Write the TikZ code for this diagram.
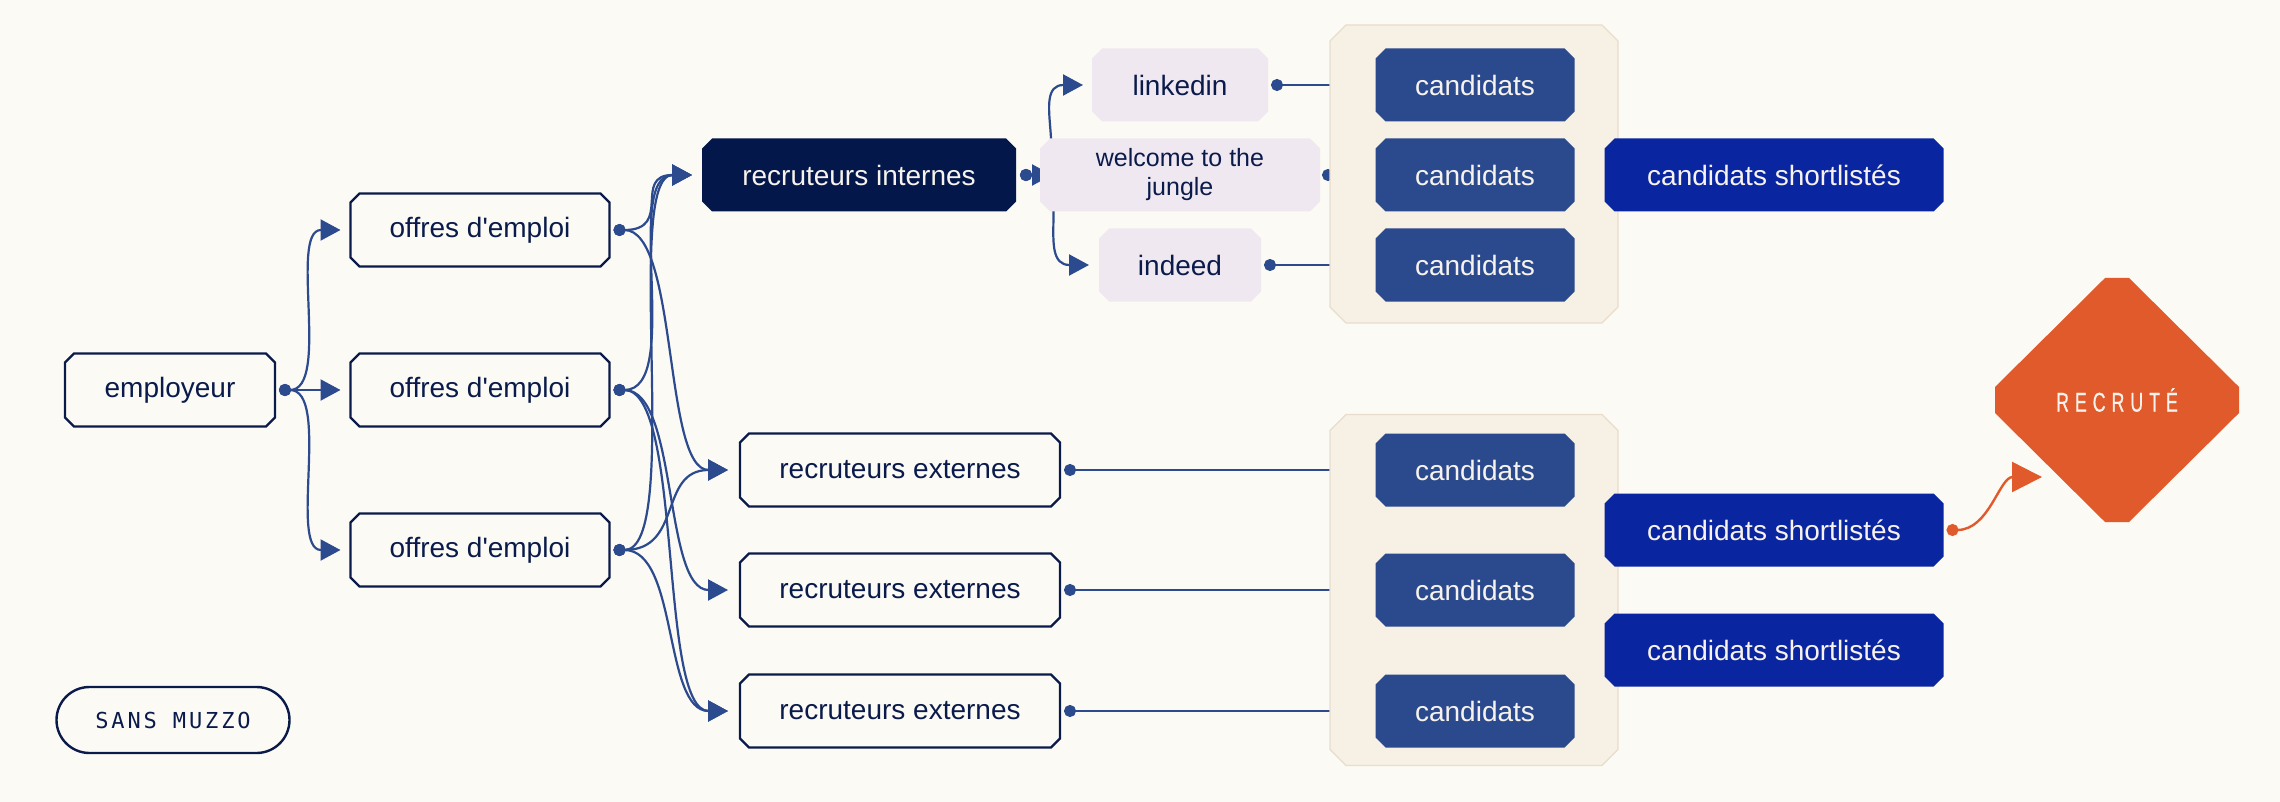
\documentclass[tikz,border=0pt]{standalone}
\usepackage{fontspec}
\setmainfont{Liberation Sans}
\newfontfamily\monof{DejaVu Sans Mono}[LetterSpace=13]
\newfontfamily\recf{Liberation Sans}[FakeStretch=0.66,LetterSpace=22,FakeBold=0.6]
\usetikzlibrary{arrows.meta,calc}
\definecolor{bgc}{HTML}{FCFAF4}
\definecolor{navy}{HTML}{0A1B4B}
\definecolor{dnavy}{HTML}{03174B}
\definecolor{lnk}{HTML}{2C4A8E}
\definecolor{candc}{HTML}{2B4A8E}
\definecolor{shortc}{HTML}{0A25A0}
\definecolor{lav}{HTML}{EFE8F1}
\definecolor{tan}{HTML}{F6F0E5}
\definecolor{tanb}{HTML}{E9DDCB}
\definecolor{orng}{HTML}{E05A2B}
\definecolor{lighttxt}{HTML}{F7F3EC}
\pgfdeclarelayer{back}
\pgfdeclarelayer{edges}
\pgfdeclarelayer{cont}
\pgfdeclarelayer{shp}
\pgfsetlayers{back,edges,cont,shp,main}
\newcommand\chamf[3]{\path[#3] ([xshift=#2]#1.north west) -- ([xshift=-#2]#1.north east) -- ([yshift=-#2]#1.north east) -- ([yshift=#2]#1.south east) -- ([xshift=-#2]#1.south east) -- ([xshift=#2]#1.south west) -- ([yshift=#2]#1.south west) -- ([yshift=-#2]#1.north west) -- cycle;}
\tikzset{
  box/.style={rectangle, minimum height=73pt, inner sep=0pt, outer sep=0pt, font=\fontsize{28}{32}\selectfont},
  wbox/.style={box, text=navy},
  dbox/.style={box, text=lighttxt},
  lbox/.style={box, text=navy},
  cbox/.style={box, text=lighttxt, minimum width=199pt},
  sbox/.style={box, text=lighttxt, minimum width=339pt},
  wsh/.style={draw=navy, line width=2.4pt, fill=bgc},
  contsh/.style={fill=tan, draw=tanb, line width=1.2pt},
  conn/.style={draw=lnk, line width=2.2pt, {Circle[length=12pt]}-{Triangle[length=20pt,width=21pt]}},
  oconn/.style={draw=orng, line width=2.4pt, {Circle[length=12pt]}-{Triangle[length=30pt,width=30pt]}},
  bend/.style={to path={.. controls ([xshift=#1]\tikztostart) and ([xshift=-#1]\tikztotarget) .. (\tikztotarget)}},
}
\begin{document}
\begin{tikzpicture}[x=1pt,y=-1pt]
\begin{pgfonlayer}{back}
\fill[bgc] (0,0) rectangle (2280,802);
\end{pgfonlayer}
\useasboundingbox (0,0) rectangle (2280,802);

% nodes
\node[wbox, minimum width=210pt] (emp) at (170,390) {employeur};
\node[wbox, minimum width=259pt] (o1) at (480,230) {offres d\textquotesingle emploi};
\node[wbox, minimum width=259pt] (o2) at (480,390) {offres d\textquotesingle emploi};
\node[wbox, minimum width=259pt] (o3) at (480,550) {offres d\textquotesingle emploi};
\node[dbox, minimum width=314pt] (ri) at (859,175) {recruteurs internes};
\node[wbox, minimum width=320pt] (e1) at (900,470) {recruteurs externes};
\node[wbox, minimum width=320pt] (e2) at (900,590) {recruteurs externes};
\node[wbox, minimum width=320pt] (e3) at (900,711) {recruteurs externes};
\node[lbox, minimum width=176pt] (li) at (1180,85) {linkedin};
\node[lbox, minimum width=280pt, align=center, font=\fontsize{25}{29}\selectfont] (wj) at (1180,175) {welcome to the\\jungle};
\node[lbox, minimum width=162pt] (ind) at (1180,265) {indeed};

\node[minimum width=288pt, minimum height=298pt, inner sep=0pt, outer sep=0pt] (ct) at (1474,174) {};
\node[minimum width=288pt, minimum height=351pt, inner sep=0pt, outer sep=0pt] (cb) at (1474,590) {};

\node[cbox] (c1) at (1475,85) {candidats};
\node[cbox] (c2) at (1475,175) {candidats};
\node[cbox] (c3) at (1475,265) {candidats};
\node[cbox] (c4) at (1475,470) {candidats};
\node[cbox] (c5) at (1475,590) {candidats};
\node[cbox] (c6) at (1475,711) {candidats};

\node[sbox] (s1) at (1774,175) {candidats shortlistés};
\node[sbox] (s2) at (1774,530) {candidats shortlistés};
\node[sbox] (s3) at (1774,650) {candidats shortlistés};

\node[text=lighttxt, font=\recf\fontsize{27}{30}\selectfont, inner sep=0pt] (rec) at (2117,400) {RECRUTÉ};
\coordinate (rin) at ($(rec)+(-75,77)$);

\node[draw=navy, line width=2.4pt, rounded corners=33pt, minimum width=233pt, minimum height=66pt, fill=bgc, text=navy, font=\monof\fontsize{22}{25}\selectfont] (sm) at (173,720) {SANS MUZZO};

% shapes
\begin{pgfonlayer}{cont}
\chamf{ct}{16pt}{contsh}
\chamf{cb}{16pt}{contsh}
\end{pgfonlayer}
\begin{pgfonlayer}{shp}
\foreach \n in {emp,o1,o2,o3,e1,e2,e3} {\chamf{\n}{9pt}{wsh}}
\chamf{ri}{10pt}{fill=dnavy}
\foreach \n in {li,wj,ind} {\chamf{\n}{10pt}{fill=lav}}
\foreach \n in {c1,c2,c3,c4,c5,c6} {\chamf{\n}{10pt}{fill=candc}}
\foreach \n in {s1,s2,s3} {\chamf{\n}{10pt}{fill=shortc}}
\fill[orng] ($(rec)+(-12,-122)$) -- ($(rec)+(12,-122)$) -- ($(rec)+(122,-13)$) -- ($(rec)+(122,13)$)
  -- ($(rec)+(12,122)$) -- ($(rec)+(-12,122)$) -- ($(rec)+(-122,13)$) -- ($(rec)+(-122,-13)$) -- cycle;
\end{pgfonlayer}

% edges
\begin{pgfonlayer}{edges}
\draw[conn] ([xshift=4pt]emp.east) to[bend=52pt] ([xshift=-10pt]o1.west);
\draw[conn] ([xshift=4pt]emp.east) -- ([xshift=-10pt]o2.west);
\draw[conn] ([xshift=4pt]emp.east) to[bend=52pt] ([xshift=-10pt]o3.west);

\draw[conn] ([xshift=4pt]o1.east) to[bend=60pt] ([xshift=-10pt]ri.west);
\draw[conn] ([xshift=4pt]o1.east) to[bend=65pt] ([xshift=-12pt]e1.west);
\draw[conn] ([xshift=4pt]o2.east) to[bend=70pt] ([xshift=-10pt]ri.west);
\draw[conn] ([xshift=4pt]o2.east) to[bend=65pt] ([xshift=-12pt]e2.west);
\draw[conn] ([xshift=4pt]o2.east) to[bend=70pt] ([xshift=-12pt]e3.west);
\draw[conn] ([xshift=4pt]o3.east) to[bend=70pt] ([xshift=-10pt]ri.west);
\draw[conn] ([xshift=4pt]o3.east) to[bend=70pt] ([xshift=-12pt]e1.west);
\draw[conn] ([xshift=4pt]o3.east) to[bend=65pt] ([xshift=-12pt]e3.west);

\draw[conn] ([xshift=4pt]ri.east) to[bend=55pt] ([xshift=-9pt]li.west);
\draw[conn] ([xshift=4pt]ri.east) -- ([xshift=12pt]wj.west);
\draw[conn] ([xshift=4pt]ri.east) to[bend=55pt] ([xshift=-10pt]ind.west);

\draw[conn] ([xshift=3pt]li.east) -- (c1.west);
\draw[conn] ([xshift=2pt]wj.east) -- (c2.west);
\draw[conn] ([xshift=3pt]ind.east) -- (c3.west);
\draw[conn] ([xshift=4pt]e1.east) -- (c4.west);
\draw[conn] ([xshift=4pt]e2.east) -- (c5.west);
\draw[conn] ([xshift=4pt]e3.east) -- (c6.west);

\draw[oconn] ([xshift=3pt]s2.east) to[out=0,in=180] (rin);
\end{pgfonlayer}
\end{tikzpicture}
\end{document}
